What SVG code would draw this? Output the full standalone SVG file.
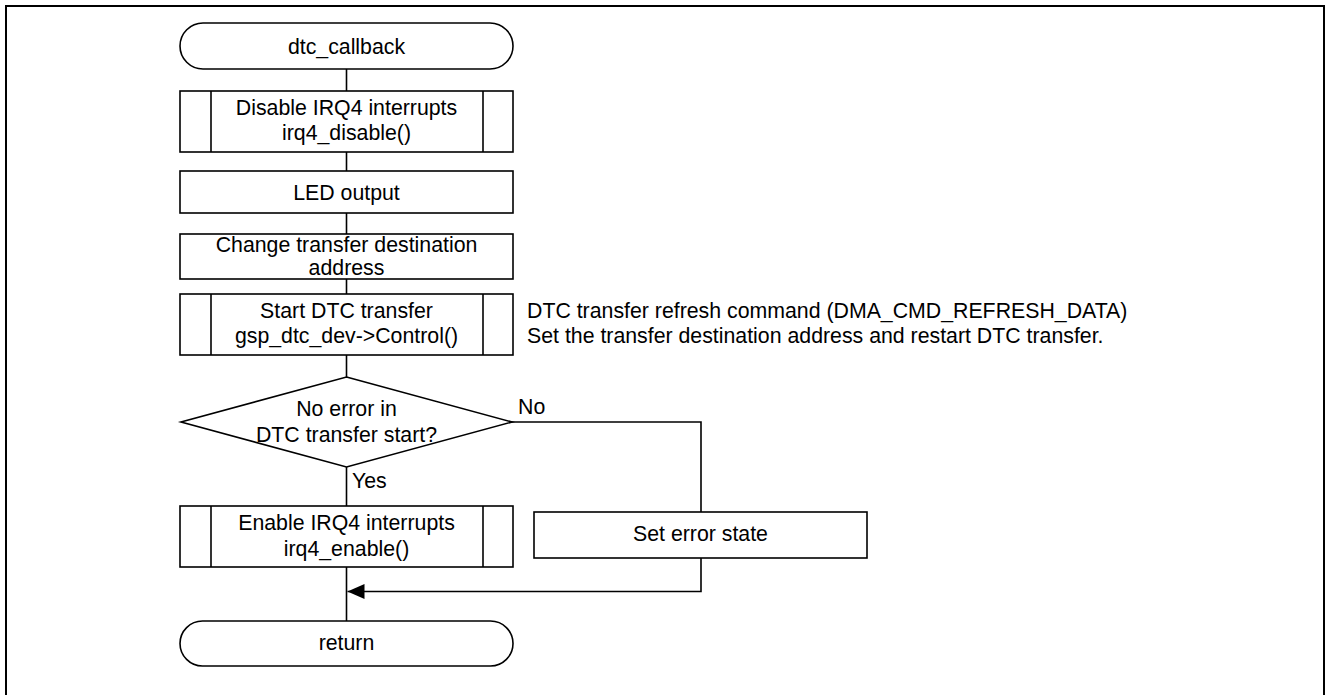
<svg xmlns="http://www.w3.org/2000/svg" width="1328" height="695" viewBox="0 0 1328 695">
<defs>
<style>
.s{fill:#fff;stroke:#000;stroke-width:1.6}
.l{fill:none;stroke:#000;stroke-width:1.6}
text{font-family:"Liberation Sans",Arial,sans-serif;font-size:21.3px;fill:#000}
.c{text-anchor:middle}
</style>
<marker id="ah" markerWidth="17" markerHeight="15" refX="17" refY="7.5" orient="auto" markerUnits="userSpaceOnUse">
<path d="M0,0 L17,7.5 L0,15 Z" fill="#000"/>
</marker>
</defs>
<rect x="0" y="0" width="1328" height="695" fill="#fff"/>
<path d="M6,700 V6 H1324 V700" fill="none" stroke="#000" stroke-width="2"/>
<g id="connectors">
<line class="l" x1="346.5" y1="69" x2="346.5" y2="91"/>
<line class="l" x1="346.5" y1="152" x2="346.5" y2="171"/>
<line class="l" x1="346.5" y1="213" x2="346.5" y2="234"/>
<line class="l" x1="346.5" y1="279" x2="346.5" y2="294"/>
<line class="l" x1="346.5" y1="355" x2="346.5" y2="377"/>
<line class="l" x1="346.5" y1="467" x2="346.5" y2="506"/>
<line class="l" x1="346.5" y1="567" x2="346.5" y2="621"/>
<polyline class="l" points="512,422 701,422 701,512"/>
<polyline class="l" points="701,558 701,591.5 347.5,591.5" marker-end="url(#ah)"/>
<text x="518" y="414">No</text>
<text x="352" y="488">Yes</text>
</g>
<g id="start">
<rect class="s" x="180" y="23" width="333" height="46" rx="23" ry="23"/>
<text class="c" x="346.5" y="54">dtc_callback</text>
</g>
<g id="disable">
<rect class="s" x="180" y="91" width="333" height="61"/>
<line class="l" x1="211" y1="91" x2="211" y2="152"/>
<line class="l" x1="483" y1="91" x2="483" y2="152"/>
<text class="c" x="346.5" y="115">Disable IRQ4 interrupts</text>
<text class="c" x="346.5" y="140">irq4_disable()</text>
</g>
<g id="led">
<rect class="s" x="180" y="171" width="333" height="42"/>
<text class="c" x="346.5" y="200">LED output</text>
</g>
<g id="change">
<rect class="s" x="180" y="234" width="333" height="45"/>
<text class="c" x="346.5" y="252">Change transfer destination</text>
<text class="c" x="346.5" y="275">address</text>
</g>
<g id="startdtc">
<rect class="s" x="180" y="294" width="333" height="61"/>
<line class="l" x1="211" y1="294" x2="211" y2="355"/>
<line class="l" x1="483" y1="294" x2="483" y2="355"/>
<text class="c" x="346.5" y="318">Start DTC transfer</text>
<text class="c" x="346.5" y="343">gsp_dtc_dev-&gt;Control()</text>
</g>
<g id="note">
<text x="527" y="318">DTC transfer refresh command (DMA_CMD_REFRESH_DATA)</text>
<text x="527" y="343">Set the transfer destination address and restart DTC transfer.</text>
</g>
<g id="decision">
<polygon class="s" points="346.5,377 512,422 346.5,467 181,422"/>
<text class="c" x="346.5" y="416">No error in</text>
<text class="c" x="346.5" y="442">DTC transfer start?</text>
</g>
<g id="enable">
<rect class="s" x="180" y="506" width="333" height="61"/>
<line class="l" x1="211" y1="506" x2="211" y2="567"/>
<line class="l" x1="483" y1="506" x2="483" y2="567"/>
<text class="c" x="346.5" y="530">Enable IRQ4 interrupts</text>
<text class="c" x="346.5" y="556">irq4_enable()</text>
</g>
<g id="seterror">
<rect class="s" x="534" y="512" width="333" height="46"/>
<text class="c" x="700.5" y="541">Set error state</text>
</g>
<g id="return">
<rect class="s" x="180" y="621" width="333" height="45" rx="22.5" ry="22.5"/>
<text class="c" x="346.5" y="650">return</text>
</g>
</svg>
